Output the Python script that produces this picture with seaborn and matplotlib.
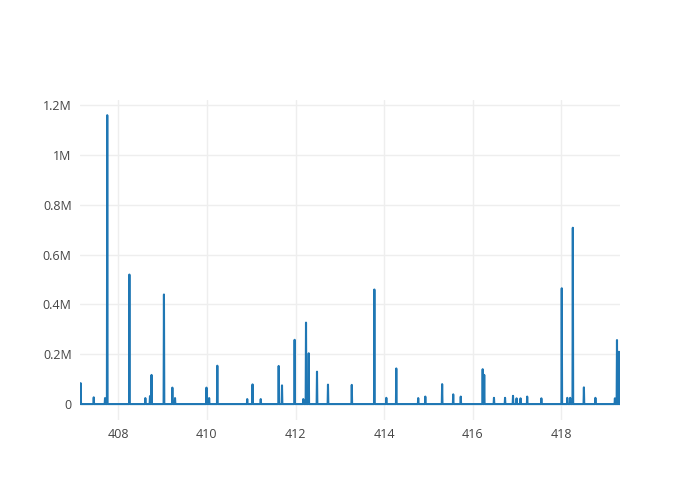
import matplotlib
matplotlib.use("Agg")
import matplotlib.pyplot as plt
from matplotlib.ticker import FuncFormatter, MultipleLocator
import seaborn as sns
import pandas as pd

# spike positions (x) and their peak values
spike_x = [407.15, 407.445, 407.70, 407.75, 408.25, 408.61, 408.715, 408.75, 409.03, 409.22,
           409.28, 409.99, 410.05, 410.235, 410.91, 411.03, 411.215, 411.62, 411.695, 411.98,
           412.175, 412.237, 412.298, 412.485, 412.733, 413.27, 413.78, 414.05, 414.275, 414.77,
           414.93, 415.31, 415.56, 415.73, 416.225, 416.26, 416.48, 416.73, 416.91, 416.99,
           417.08, 417.23, 417.55, 418.01, 418.135, 418.20, 418.26, 418.51, 418.77, 419.21,
           419.257, 419.30]
spike_y = [84000, 27000, 24000, 1160000, 520000, 24000, 32000, 117000, 440000, 66000,
           24000, 66000, 24000, 154000, 20000, 79000, 20000, 153000, 75000, 258000,
           20000, 327000, 204000, 130000, 78000, 77000, 460000, 25000, 143000, 24000,
           30000, 80000, 39000, 30000, 140000, 117000, 25000, 25000, 33000, 23000,
           23000, 30000, 23000, 465000, 25000, 25000, 708000, 67000, 25000, 23000,
           257000, 210000]
x_start, x_end = 407.135, 419.325

# line table: baseline at zero with each spike rising and falling back
rows = [(x_start, 0)]
for sx, sy in zip(spike_x, spike_y):
    rows += [(sx - 0.008, 0), (sx, sy), (sx + 0.008, 0)]
rows.append((x_end, 0))
data = pd.DataFrame(rows, columns=["t", "value"])

sns.set_style("white")
plt.rcParams["font.family"] = ["Open Sans", "DejaVu Sans"]

fig = plt.figure(figsize=(7, 5), dpi=100)
ax = fig.add_axes([80 / 700, 80 / 500, 540 / 700, 320 / 500])

sns.lineplot(x="t", y="value", data=data, ax=ax, estimator=None, sort=False,
             color="#1f77b4", linewidth=1.5)

ax.set_xlim(x_start, x_end)
ax.set_ylim(-64000, 1221000)
ax.xaxis.set_major_locator(MultipleLocator(2))
ax.yaxis.set_major_locator(MultipleLocator(200000))


def fmt_m(v, pos):
    if abs(v) < 1:
        return "0"
    return "{:g}M".format(v / 1e6)


ax.yaxis.set_major_formatter(FuncFormatter(fmt_m))
ax.grid(True, color="#eeeeee", linewidth=1)
ax.set_axisbelow(True)
for s in ax.spines.values():
    s.set_visible(False)
ax.tick_params(length=0, labelsize=9, colors="#444444", pad=6)
ax.set_xlabel("")
ax.set_ylabel("")

plt.savefig("out.png", dpi=100)
